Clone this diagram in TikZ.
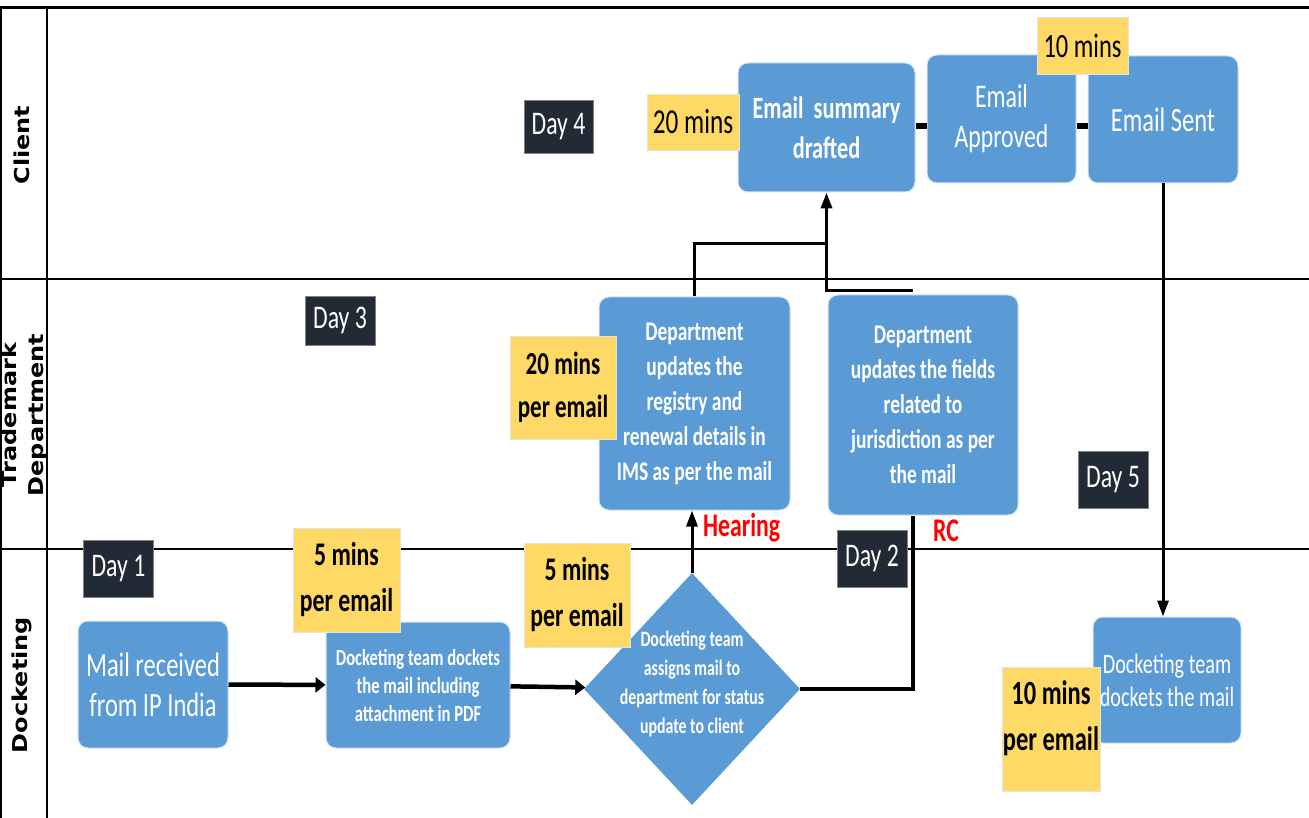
\documentclass[tikz,border=0pt]{standalone}
\usepackage{fontspec}
\setmainfont{Carlito}[FakeStretch=0.72]
\newfontfamily\lanefont{DejaVu Sans}[FakeStretch=1.17]
\usetikzlibrary{positioning,arrows.meta,shapes.geometric,calc}
\definecolor{boxFill}{HTML}{5B9BD5}
\definecolor{boxStroke}{HTML}{D3E2F2}
\definecolor{noteFill}{HTML}{FFD966}
\definecolor{noteStroke}{HTML}{E3E3E3}
\definecolor{dayFill}{HTML}{222A35}
\definecolor{dayStroke}{HTML}{808080}
\definecolor{flagRed}{HTML}{FF0000}
\newcommand{\fsz}[2]{\fontsize{#1}{#2}\selectfont}

\begin{document}
\begin{tikzpicture}[
  x=1pt, y=-1pt,
  wh/.style 2 args={minimum width=#1, minimum height=#2},
  task/.style    ={draw=boxStroke, fill=boxFill, line width=1pt, rounded corners=10pt, text=white, align=center, inner sep=0pt},
  note/.style    ={draw=noteStroke, fill=noteFill, line width=0.6pt, text=black, align=center, inner sep=0pt},
  day/.style     ={draw=dayStroke, fill=dayFill, line width=0.6pt, text=white, inner sep=0pt, wh={70pt}{57pt}, font=\fsz{33}{40}},
  lane/.style    ={line width=2pt},
  lanename/.style={rotate=90, align=center, font=\lanefont\bfseries\fsz{20.5}{27}},
  flag/.style    ={text=flagRed, inner sep=0pt, font=\bfseries\fsz{33}{40}},
  harr/.style    ={-{Triangle[length=10pt, width=15pt]}, line width=4.5pt},
  varr/.style    ={-{Triangle[length=16pt, width=11pt]}, line width=3pt},
  elbow/.style   ={line width=3.5pt},
  link/.style    ={line width=6pt},
]
\useasboundingbox (0,0) rectangle (1309,818);

% ============ Swimlanes ============
\draw[lane, line width=3pt]   (0,8) -- (1309,8);
\draw[lane]                   (1,8) -- (1,818);
\draw[lane]                   (47,8) -- (47,818);
\draw[lane, line width=2.5pt] (0,279) -- (1309,279);
\draw[lane]                   (0,549) -- (1309,549);

\node[lanename] (lclient) at (22,145) {Client};
\node[lanename] (ltm)     at (24.5,415) {Trademark\\Department};
\node[lanename] (ldock)   at (22,685) {Docketing};

% ============ Client lane ============
\node[task, wh={177pt}{129pt}, font=\bfseries\fsz{31}{40}] (summary)  at (826.5,127.5) {Email~ summary\\drafted};
\node[task, wh={149pt}{128pt}, font=\fsz{33}{40}]          (approved) at (1001.5,119)  {Email\\Approved};
\node[task, wh={150pt}{127pt}, font=\fsz{34}{40}]          (sent)     at (1163,119.5)  {Email Sent};

% ============ Trademark lane ============
\node[task, wh={191pt}{213pt}, font=\bfseries\fsz{27}{35}] (dept1) at (694.5,403.5) {Department\\updates the\\registry and\\renewal details in\\IMS as per the mail};
\node[task, wh={190pt}{220pt}, font=\bfseries\fsz{27}{35}] (dept2) at (923,405) {Department\\updates the fields\\related to\\jurisdiction as per\\the mail};

% ============ Docketing lane ============
\node[task, wh={150pt}{127pt}, font=\fsz{34}{40}]          (mailrx) at (153,684.5) {Mail received\\from IP India};
\node[task, wh={184pt}{126pt}, font=\bfseries\fsz{23}{28}] (dock1)  at (418,685) {Docketing team dockets\\the mail including\\attachment in PDF};
\node[diamond, fill=boxFill, text=white, inner sep=0pt, wh={216pt}{232pt}, font=\bfseries\fsz{22}{29}] (assign) at (692,689)
  {\makebox[0pt]{\smash{\begin{tabular}{@{}c@{}}Docketing team\\assigns mail to\\department for status\\update to client\end{tabular}}}};
\node[task, wh={148pt}{126pt}, font=\fsz{28}{33}]          (dock2)  at (1167,680) {Docketing team\\dockets the mail};

% ============ Connectors ============
\draw[harr] (mailrx) -- (dock1);
\draw[harr] (dock1) -- (assign);
\draw[varr] (assign.north) -- (assign.north |- dept1.south);
\draw[elbow] (assign.east) -| ($(dept2.south)+(-10,0)$);
\draw[elbow] (dept1.north) |- ($(summary.south)+(0,51)$);
\draw[elbow, -{Triangle[length=16pt, width=11pt]}] ($(dept2.north)+(-10,-4)$) -| (summary.south);
\draw[varr] (sent.south) -- (sent.south |- dock2.north);
\draw[link] ([yshift=1.5pt]summary.east) -- ([yshift=1.5pt]summary.east -| approved.west);
\draw[link] ([yshift=-7pt]approved.east) -- ([yshift=-7pt]approved.east -| sent.west);

\node[flag, anchor=west] (hearing) at (703,528) {Hearing};
\node[flag]              (rc)      at (946,531) {RC};

% ============ Effort notes ============
\node[note, wh={92pt}{56pt},   font=\fsz{35}{40}]          (t20c) at (693,122)    {20 mins};
\node[note, wh={91pt}{57pt},   font=\fsz{34}{40}]          (t10c) at (1082.5,45.5) {10 mins};
\node[note, wh={106pt}{103pt}, font=\bfseries\fsz{32}{43}] (t20d) at (563,387.5)  {20 mins\\per email};
\node[note, wh={107pt}{104pt}, font=\bfseries\fsz{33}{46}] (t5a)  at (346.5,580)  {5 mins\\per email};
\node[note, wh={106pt}{104pt}, font=\bfseries\fsz{33}{46}] (t5b)  at (577,595)    {5 mins\\per email};
\node[note, wh={98pt}{124pt},  font=\bfseries\fsz{34}{46}, text depth=27pt] (t10d) at (1051,729) {10 mins\\per email};

% ============ Day markers ============
\node[day] (day1) at (118.5,568.5) {Day 1};
\node[day] (day2) at (872,558.5)   {Day 2};
\node[day, wh={70pt}{49pt}] (day3) at (340,320.5) {Day 3};
\node[day, wh={69pt}{53pt}] (day4) at (558.5,126.5) {Day 4};
\node[day] (day5) at (1113,479.5)  {Day 5};

\end{tikzpicture}
\end{document}
